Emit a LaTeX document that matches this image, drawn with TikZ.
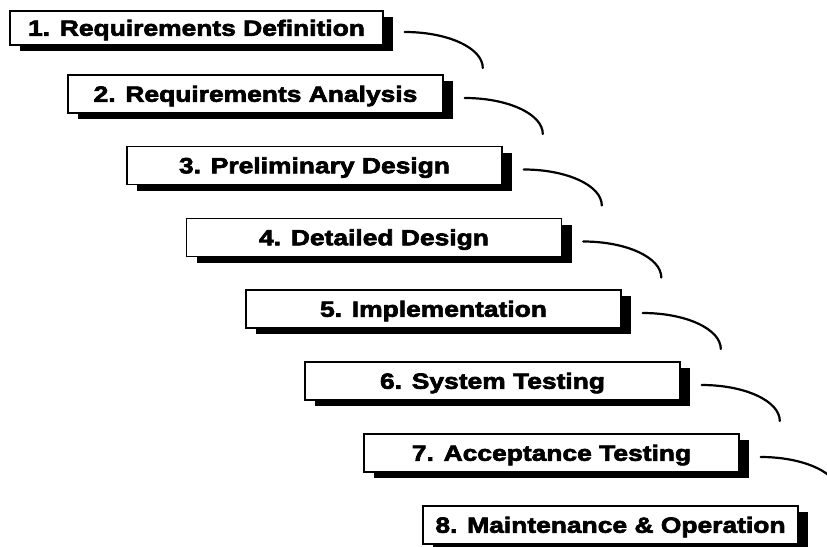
\documentclass[tikz,border=0pt]{standalone}
\usepackage{fontspec}
\usepackage{tikz}
\usetikzlibrary{shadows}
\usetikzlibrary{calc}
\newfontfamily\phasefont{Liberation Sans}[FakeStretch=1.2,BoldFeatures={FakeBold=3}]
\tikzset{
  phase/.style={draw,line width=1.6pt,fill=white,rectangle,inner sep=0pt,
    minimum width=375pt,minimum height=38pt,text height=15.5pt,text depth=0pt,
    font=\phasefont\bfseries\fontsize{22}{22}\selectfont,
    drop shadow={shadow xshift=10pt,shadow yshift=-6pt,fill=black,opacity=1}},
  flow/.style={line width=2.2pt,line cap=round}
}
\begin{document}
\begin{tikzpicture}[x=1pt,y=-1pt]
        \useasboundingbox (0,0) rectangle (827,546);
        \node[phase,minimum width=373pt,minimum height=34pt] (reqdef) at (196.5,28) {1. Requirements Definition};
        \node[phase] (reqana) at (255.5,94) {2. Requirements Analysis};
        \node[phase] (prelim) at (314.5,165.5) {3. Preliminary Design};
        \node[phase] (detail) at (374,237.5) {4. Detailed Design};
        \node[phase] (impl) at (433.5,309) {5. Implementation};
        \node[phase] (systest) at (492.5,381) {6. System Testing};
        \node[phase] (acctest) at (551.5,453) {7. Acceptance Testing};
        \node[phase] (maint) at (610.5,525) {8. Maintenance \& Operation};
        \foreach \from/\i in {reqdef/1,reqana/2,prelim/3,detail/4,impl/5,systest/6,acctest/7}{
            \coordinate (s\i) at ($(\from.east)+(21,4)$);
            \coordinate (t\i) at ($(s\i)+(78,36)$);
            \draw[flow] (s\i) .. controls +(43,0) and +(0,-20) .. (t\i);
        }
    \end{tikzpicture}
\end{document}
